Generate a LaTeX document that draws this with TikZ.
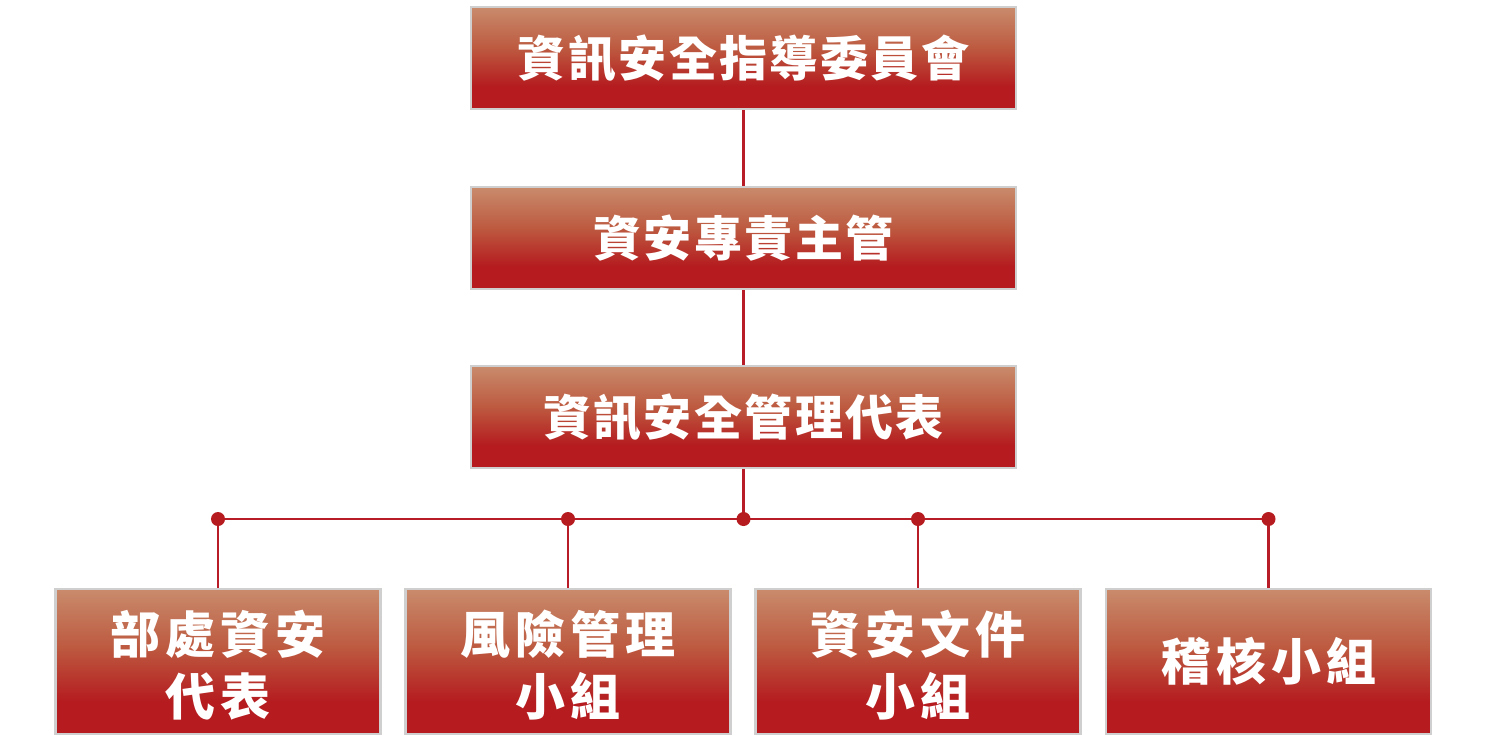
\documentclass[tikz,border=0pt]{standalone}
\usepackage{fontspec}
\newfontfamily\cjk{Noto Sans CJK TC}[LetterSpace=5]
\newfontfamily\cjkwide{Noto Sans CJK TC}[LetterSpace=10]
\definecolor{linered}{HTML}{B81C26}
\definecolor{boxred}{HTML}{B51B1F}
\definecolor{boxmid}{HTML}{BD5A40}
\definecolor{boxtan}{HTML}{C98B6C}
\definecolor{boxedge}{HTML}{CFCFCF}
\pgfdeclareverticalshading{boxgrad}{100bp}{color(0bp)=(boxred); color(25bp)=(boxred); color(36bp)=(boxred); color(55bp)=(boxmid); color(75bp)=(boxtan); color(100bp)=(boxtan)}
\newcommand{\twolines}[2]{\parbox{300pt}{\centering\vspace*{8pt}#1\\#2}}
\tikzset{
  box/.style={draw=boxedge, line width=2.5pt, shading=boxgrad, text=white, align=center, inner sep=0pt},
  topbox/.style={box, minimum width=545pt, minimum height=102pt, font=\cjk\bfseries\fontsize{48}{60}\selectfont},
  lowbox/.style={box, minimum width=325pt, minimum height=145pt, font=\cjkwide\bfseries\fontsize{50}{62}\selectfont},
  conn/.style={draw=linered, line width=2.2pt},
  dot/.style={circle, fill=boxred, inner sep=0pt, minimum size=14pt}
}
\begin{document}
\begin{tikzpicture}[x=1pt,y=-1pt]
\useasboundingbox (0,0) rectangle (1487,753);
\node[topbox] (a) at (743.5,58) {資訊安全指導委員會};
\node[topbox] (b) at (743.5,238) {資安專責主管};
\node[topbox] (c) at (743.5,417) {資訊安全管理代表};
\node[lowbox] (d1) at (218,661.5) {\twolines{部處資安}{代表}};
\node[lowbox] (d2) at (568,661.5) {\twolines{風險管理}{小組}};
\node[lowbox] (d3) at (918,661.5) {\twolines{資安文件}{小組}};
\node[lowbox] (d4) at (1268.5,661.5) {稽核小組};
\coordinate (j) at (743.5,519);
\coordinate (j1) at (218,519);
\coordinate (j2) at (568,519);
\coordinate (j3) at (918,519);
\coordinate (j4) at (1268.5,519);
\draw[conn] (a.south) -- (b.north);
\draw[conn] (b.south) -- (c.north);
\draw[conn] (c.south) -- (j);
\draw[conn] (j1) -- (j4);
\draw[conn] (j1) -- (d1.north);
\draw[conn] (j2) -- (d2.north);
\draw[conn] (j3) -- (d3.north);
\draw[conn] (j4) -- (d4.north);
\foreach \p in {j,j1,j2,j3,j4} \node[dot] at (\p) {};
\end{tikzpicture}
\end{document}
